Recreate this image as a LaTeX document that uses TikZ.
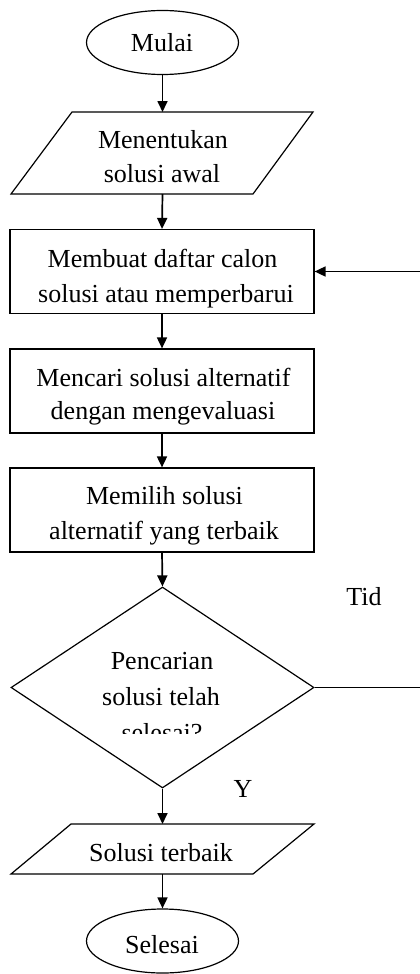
\documentclass[tikz,border=0pt]{standalone}
\usepackage{fontspec}
\setmainfont{Liberation Serif}
\usetikzlibrary{shapes.geometric,arrows.meta}
\begin{document}
\begin{tikzpicture}[x=1pt,y=-1pt,line width=1.2pt,
  term/.style={draw,ellipse,minimum width=152pt,minimum height=64pt,inner sep=0pt},
  procbox/.style={draw,rectangle,minimum width=304pt,minimum height=84pt,inner sep=0pt},
  decbox/.style={draw,diamond,minimum width=303pt,minimum height=201pt,inner sep=0pt},
  txt/.style={anchor=base,inner sep=0pt,font=\fontsize{26}{34}\selectfont},
  flow/.style={line width=1.7pt,-{Triangle[width=10pt,length=11pt]}}
]
\fill[white] (0,0) rectangle (420,974);
\useasboundingbox (0,0) rectangle (420,974);
\clip (0,0) rectangle (420,974);

% shapes
\node[term] (start) at (162.5,42.5) {};
\draw (72,112) -- (313,112) -- (253,194) -- (11,194) -- cycle;
\coordinate (p1n) at (162.5,112);
\coordinate (p1s) at (162.5,194);
\node[procbox] (r1) at (162,271.5) {};
\node[procbox] (r2) at (162,391) {};
\node[procbox] (r3) at (162,510) {};
\node[decbox] (d) at (162.5,687.5) {};
\draw (71,824) -- (314,824) -- (253,874) -- (11,874) -- cycle;
\coordinate (p2n) at (162.5,824);
\coordinate (p2s) at (162.5,874);
\node[term] (stop) at (162.5,941) {};

% texts
\node[txt] (tstart) at (162,52) {Mulai};
\node[txt] (t1a) at (163,148) {Menentukan};
\node[txt] (t1b) at (162,182) {solusi awal};
\node[txt] (t2a) at (162.5,267) {Membuat daftar calon};
\node[txt] (t2b) at (166,302) {solusi atau memperbarui};
\node[txt] (t3a) at (163.5,386) {Mencari solusi alternatif};
\node[txt] (t3b) at (163,419) {dengan mengevaluasi};
\node[txt] (t4a) at (164.5,504) {Memilih solusi};
\node[txt] (t4b) at (164,539) {alternatif yang terbaik};
\node[txt] (t5a) at (162,669) {Pencarian};
\node[txt] (t5b) at (161,705) {solusi telah};
\begin{scope}
  \clip (90,710) rectangle (240,733);
  \node[txt] (t5c) at (162,741) {selesai?};
\end{scope}
\node[txt] (t6) at (161,861) {Solusi terbaik};
\node[txt] (tstop) at (162,953) {Selesai};
\node[txt] (ltid) at (364,605) {Tid};
\node[txt] (ly) at (243,797) {Y};

% connectors
\draw[flow] (start.south) -- (p1n);
\draw[flow] (p1s) -- (r1.north);
\draw[flow] (r1.south) -- (r2.north);
\draw[flow] (r2.south) -- (r3.north);
\draw[flow] (r3.south) -- (d.north);
\draw[flow] (d.south) -- (p2n);
\draw[flow] (p2s) -- (stop.north);
\coordinate (loopc) at (440,687.5);
\draw[flow] (d.east) -- (loopc) |- (r1.east);
\end{tikzpicture}
\end{document}
